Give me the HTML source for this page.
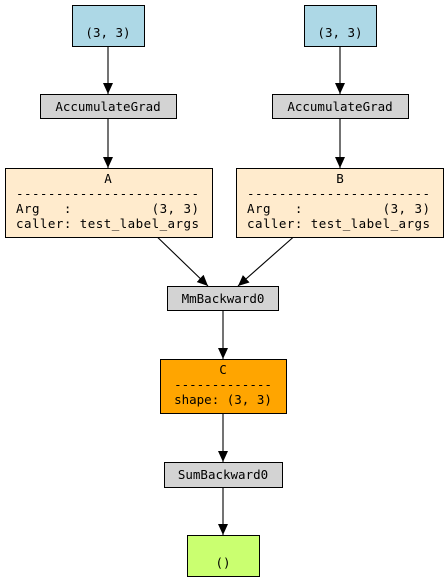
<!DOCTYPE html>
<html><head><meta charset="utf-8"><style>
html,body{margin:0;padding:0;background:#fff;}
svg text{font-family:"DejaVu Sans Mono","Liberation Mono",monospace;font-size:12.5px;fill:#000;}
</style></head><body>
<svg width="448" height="581" viewBox="0 0 448 581" xmlns="http://www.w3.org/2000/svg">
<defs><marker id="ar" markerWidth="12" markerHeight="12" refX="11" refY="5" orient="auto" markerUnits="userSpaceOnUse"><path d="M0,0 L11,5 L0,10 Z" fill="#000"/></marker></defs>
<g stroke="#000" stroke-width="1.1" fill="none">
<line x1="108" y1="46" x2="108" y2="94" marker-end="url(#ar)"/>
<line x1="340" y1="46" x2="340" y2="94" marker-end="url(#ar)"/>
<line x1="108" y1="118" x2="108" y2="168" marker-end="url(#ar)"/>
<line x1="340" y1="118" x2="340" y2="168" marker-end="url(#ar)"/>
<line x1="150" y1="230" x2="208" y2="286" marker-end="url(#ar)"/>
<line x1="298" y1="233" x2="238" y2="286" marker-end="url(#ar)"/>
<line x1="223" y1="310" x2="223" y2="359" marker-end="url(#ar)"/>
<line x1="223" y1="413" x2="223" y2="462" marker-end="url(#ar)"/>
<line x1="223" y1="487" x2="223" y2="535" marker-end="url(#ar)"/>
</g>
<g stroke="#000" stroke-width="1">
<rect x="72.5" y="5.5" width="72" height="41" fill="#add8e6"/>
<rect x="304.5" y="5.5" width="72" height="41" fill="#add8e6"/>
<rect x="40.5" y="94.5" width="136" height="24" fill="#d3d3d3"/>
<rect x="272.5" y="94.5" width="136" height="24" fill="#d3d3d3"/>
<rect x="5.5" y="168.5" width="207" height="69" fill="#ffebcd"/>
<rect x="236.5" y="168.5" width="207" height="69" fill="#ffebcd"/>
<rect x="167.5" y="286.5" width="111" height="24" fill="#d3d3d3"/>
<rect x="160.5" y="359.5" width="126" height="54" fill="#ffa500"/>
<rect x="164.5" y="462.5" width="118" height="25" fill="#d3d3d3"/>
<rect x="187.5" y="535.5" width="72" height="41" fill="#caff70"/>
</g>
<text x="108" y="37" text-anchor="middle">(3, 3)</text>
<text x="340" y="37" text-anchor="middle">(3, 3)</text>
<text x="108" y="111" text-anchor="middle">AccumulateGrad</text>
<text x="340" y="111" text-anchor="middle">AccumulateGrad</text>
<text x="108" y="183" text-anchor="middle">A</text>
<text x="16" y="198" textLength="183">-----------------------</text>
<text x="16" y="213" xml:space="preserve" textLength="183">Arg   :          (3, 3)</text>
<text x="16" y="228" textLength="183">caller: test_label_args</text>
<text x="340" y="183" text-anchor="middle">B</text>
<text x="247" y="198" textLength="183">-----------------------</text>
<text x="247" y="213" xml:space="preserve" textLength="183">Arg   :          (3, 3)</text>
<text x="247" y="228" textLength="183">caller: test_label_args</text>
<text x="223" y="303" text-anchor="middle">MmBackward0</text>
<text x="223" y="374" text-anchor="middle">C</text>
<text x="223" y="389" text-anchor="middle">-------------</text>
<text x="223" y="404" text-anchor="middle">shape: (3, 3)</text>
<text x="223" y="479" text-anchor="middle">SumBackward0</text>
<text x="223" y="567" text-anchor="middle">()</text>
</svg>
</body></html>
